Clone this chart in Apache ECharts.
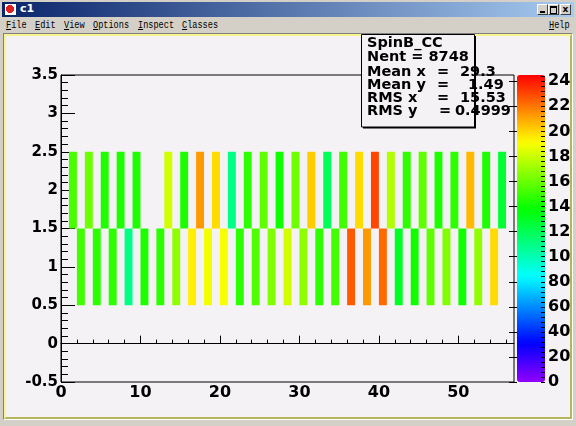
<!DOCTYPE html>
<html>
<head>
<meta charset="utf-8">
<script src="https://cdn.jsdelivr.net/npm/echarts@6/dist/echarts.min.js"></script>
<style>
html,body{margin:0;padding:0;width:576px;height:426px;overflow:hidden;background:#d4d0c8;}
#title{position:absolute;left:2px;top:2px;width:572px;height:15px;background:linear-gradient(to right,#0a246a,#a6caf0);}
#icon{position:absolute;left:3px;top:2px;width:11px;height:11px;background:radial-gradient(circle at 45% 45%,#e02020 0,#e02020 45%,#ffffff 50%);}
#ttext{position:absolute;left:18px;top:0;line-height:15px;color:#fff;font:bold 11px "DejaVu Sans",sans-serif;}
.btn{position:absolute;top:2px;width:9px;height:9px;background:#d4d0c8;border:1px solid;border-color:#fff #404040 #404040 #fff;box-sizing:content-box;}
#bmin::after{content:"";position:absolute;left:2px;top:6px;width:5px;height:2px;background:#000;}
#bmax::after{content:"";position:absolute;left:1px;top:1px;width:5px;height:5px;border:1px solid #000;border-top-width:2px;}
#bclose{font:bold 9px "DejaVu Sans",sans-serif;line-height:8px;text-align:center;color:#000;}
.mi{position:absolute;top:20px;font:11px "Liberation Mono",monospace;color:#000;line-height:11px;transform:scaleX(0.78);transform-origin:left top;white-space:nowrap;}
#cOuter{position:absolute;left:3px;top:33px;width:568px;height:385px;border-top:1px solid #808080;border-left:1px solid #808080;border-right:1px solid #fff;border-bottom:1px solid #fff;}
#cInner{position:absolute;left:0;top:0;right:0;bottom:0;box-sizing:border-box;border-style:solid;border-width:2px;border-color:#f8f590 #b8b45c #b8b45c #f8f590;background:#f5f2f5;}
#chart{position:absolute;left:0;top:0;width:576px;height:426px;}
</style>
</head>
<body>
<div id="title"><div id="icon"></div><div id="ttext">c1</div>
<div class="btn" id="bmin" style="left:535px"></div>
<div class="btn" id="bmax" style="left:546px"></div>
<div class="btn" id="bclose" style="left:558px">x</div>
</div>
<div class="mi" style="left:6px"><u>F</u>ile</div>
<div class="mi" style="left:35px"><u>E</u>dit</div>
<div class="mi" style="left:64px"><u>V</u>iew</div>
<div class="mi" style="left:93px"><u>O</u>ptions</div>
<div class="mi" style="left:138px"><u>I</u>nspect</div>
<div class="mi" style="left:182px"><u>C</u>lasses</div>
<div class="mi" style="left:549px"><u>H</u>elp</div>
<div id="cOuter"><div id="cInner"></div></div>
<div id="chart"></div>
<script>
// ---- data ----
// upper row (y bin centred at 2): lower edges of x bins and their contents
const topBinLow = [1,3,5,7,9,11,13,15,17,19,21,23,25,27,29,31,33,35,37,39,41,43,45,47,49,51,53,55];
const topCounts = [153,161,144,144,144,null,182,144,213,199,110,147,158,141,161,202,120,151,199,230,175,147,158,144,147,206,144,127];
// lower row (y bin centred at 1)
const bottomBinLow = [2,4,6,8,10,12,14,16,18,20,22,24,26,28,30,32,34,36,38,40,42,44,46,48,50,52,54];
const bottomCounts = [151,147,147,110,144,147,168,195,189,190,147,154,165,182,168,147,151,226,213,223,130,141,158,165,141,168,199];
const topRowY = 2;
const bottomRowY = 1;
// axis ticks / labels
const xTickValues = [0,10,20,30,40,50];
const yTickValues = [-0.5,0,0.5,1,1.5,2,2.5,3,3.5];
const zTickValues = [0,20,40,60,80,100,120,140,160,180,200,220,240];
const zTickLabels = ['0','20','40','60','80','10','12','14','16','18','20','22','24'];
// stats box
const statsTitle = 'SpinB_CC';
const statsNent = 'Nent = 8748';
const statsKeys = ['Mean x','Mean y','RMS x','RMS y'];
const statsValues = ['29.3','1.49','15.53','0.4999'];

// ---- build ----
const cells = [];
topBinLow.forEach((x, i) => { if (topCounts[i] != null) cells.push([x, topRowY, topCounts[i]]); });
bottomBinLow.forEach((x, i) => { if (bottomCounts[i] != null) cells.push([x, bottomRowY, bottomCounts[i]]); });

const paletteColors = [];
for (let i = 0; i < 50; i++) paletteColors.push('hsl(' + (274.4 - 5.6 * i).toFixed(1) + ',100%,50%)');

const xMinor = []; for (let v = 0; v <= 56; v += 2) xMinor.push(v);
const yMinor = []; for (let k = -5; k <= 35; k++) yMinor.push(Math.round(k) / 10);
const zMinor = []; for (let v = 0; v <= 244; v += 4) zMinor.push(v);

const FONT = '"DejaVu Sans", sans-serif';
const black = '#000';

const statsFont = 'bold 14.5px "DejaVu Sans", sans-serif';
const rowY = [72, 85, 98.7, 111.3];
const eqX = [437, 437, 437, 439];
const valX = [460, 468, 460, 455];
const graphics = [
  { type: 'rect', z: 100, shape: { x: 363, y: 36, width: 113, height: 92.5 }, style: { fill: '#000' } },
  { type: 'rect', z: 101, shape: { x: 361.5, y: 34.5, width: 113, height: 92.5 }, style: { fill: '#f5f2f5', stroke: '#000', lineWidth: 1 } },
  { type: 'text', z: 102, style: { text: statsTitle, x: 367, y: 43.5, font: statsFont, fill: black, verticalAlign: 'middle' } },
  { type: 'text', z: 102, style: { text: statsNent, x: 367, y: 57.3, font: statsFont, fill: black, verticalAlign: 'middle' } }
];
statsKeys.forEach((k, i) => {
  graphics.push({ type: 'text', z: 102, style: { text: k, x: 367, y: rowY[i], font: statsFont, fill: black, verticalAlign: 'middle' } });
  graphics.push({ type: 'text', z: 102, style: { text: '=', x: eqX[i], y: rowY[i], font: statsFont, fill: black, verticalAlign: 'middle' } });
  graphics.push({ type: 'text', z: 102, style: { text: statsValues[i], x: valX[i], y: rowY[i], font: statsFont, fill: black, verticalAlign: 'middle' } });
});

const chart = echarts.init(document.getElementById('chart'), null, { renderer: 'canvas' });
chart.setOption({
  animation: false,
  backgroundColor: 'transparent',
  grid: [
    { left: 61, top: 75, width: 453, height: 307, show: true, borderColor: '#000', borderWidth: 1, backgroundColor: 'transparent' },
    { left: 517, top: 75, width: 28, height: 307, show: false }
  ],
  xAxis: [
    { gridIndex: 0, type: 'value', min: 0, max: 57, position: 'bottom',
      axisLine: { show: true, lineStyle: { color: black, width: 1 } },
      axisTick: { show: true, inside: true, length: 8, customValues: xTickValues, lineStyle: { color: black } },
      axisLabel: { show: true, customValues: xTickValues, color: black, fontFamily: FONT, fontWeight: 'bold', fontSize: 16, margin: 3 },
      splitLine: { show: false } },
    { gridIndex: 0, type: 'value', min: 0, max: 57, position: 'bottom',
      axisLine: { show: false }, axisLabel: { show: false }, splitLine: { show: false },
      axisTick: { show: true, inside: true, length: 4, customValues: xMinor, lineStyle: { color: black } } },
    { gridIndex: 1, type: 'value', show: false, min: 0, max: 1 }
  ],
  yAxis: [
    { gridIndex: 0, type: 'value', min: -0.5, max: 3.5,
      axisLine: { show: true, lineStyle: { color: black, width: 1 } },
      axisTick: { show: true, inside: true, length: 14, customValues: yTickValues, lineStyle: { color: black } },
      axisLabel: { show: true, customValues: yTickValues, color: black, fontFamily: FONT, fontWeight: 'bold', fontSize: 15, margin: 3 },
      splitLine: { show: false } },
    { gridIndex: 0, type: 'value', min: -0.5, max: 3.5, position: 'left',
      axisLine: { show: false }, axisLabel: { show: false }, splitLine: { show: false },
      axisTick: { show: true, inside: true, length: 7, customValues: yMinor, lineStyle: { color: black } } },
    { gridIndex: 1, type: 'value', min: 0, max: 245, position: 'right', z: 10,
      axisLine: { show: false },
      axisTick: { show: true, inside: true, length: 8, customValues: zTickValues, lineStyle: { color: black } },
      axisLabel: { show: true, customValues: zTickValues, color: black, fontFamily: FONT, fontWeight: 'bold', fontSize: 16, margin: 3,
        formatter: v => { const i = zTickValues.indexOf(v); return i >= 0 ? zTickLabels[i] : ''; } },
      splitLine: { show: false } },
    { gridIndex: 1, type: 'value', min: 0, max: 245, position: 'right', z: 10,
      axisLine: { show: false }, axisLabel: { show: false }, splitLine: { show: false },
      axisTick: { show: true, inside: true, length: 4, customValues: zMinor, lineStyle: { color: black } } }
  ],
  visualMap: {
    type: 'continuous', min: 0, max: 245, dimension: 2, seriesIndex: 0,
    left: 517, top: 75, itemWidth: 28, itemHeight: 307, padding: 0,
    calculable: false, hoverLink: false, text: null, showLabel: false,
    inRange: { color: paletteColors }
  },
  graphic: graphics,
  series: [{
    type: 'custom', coordinateSystem: 'cartesian2d', xAxisIndex: 0, yAxisIndex: 0,
    silent: true, encode: { x: 0, y: 1 }, data: cells,
    renderItem: (params, api) => {
      const x0 = api.value(0), yc = api.value(1);
      const p0 = api.coord([x0, yc + 0.5]);
      const p1 = api.coord([x0 + 1, yc - 0.5]);
      return { type: 'rect', shape: { x: p0[0], y: p0[1], width: p1[0] - p0[0], height: p1[1] - p0[1] }, style: { fill: api.visual('color') } };
    }
  }]
});
</script>
</body>
</html>
